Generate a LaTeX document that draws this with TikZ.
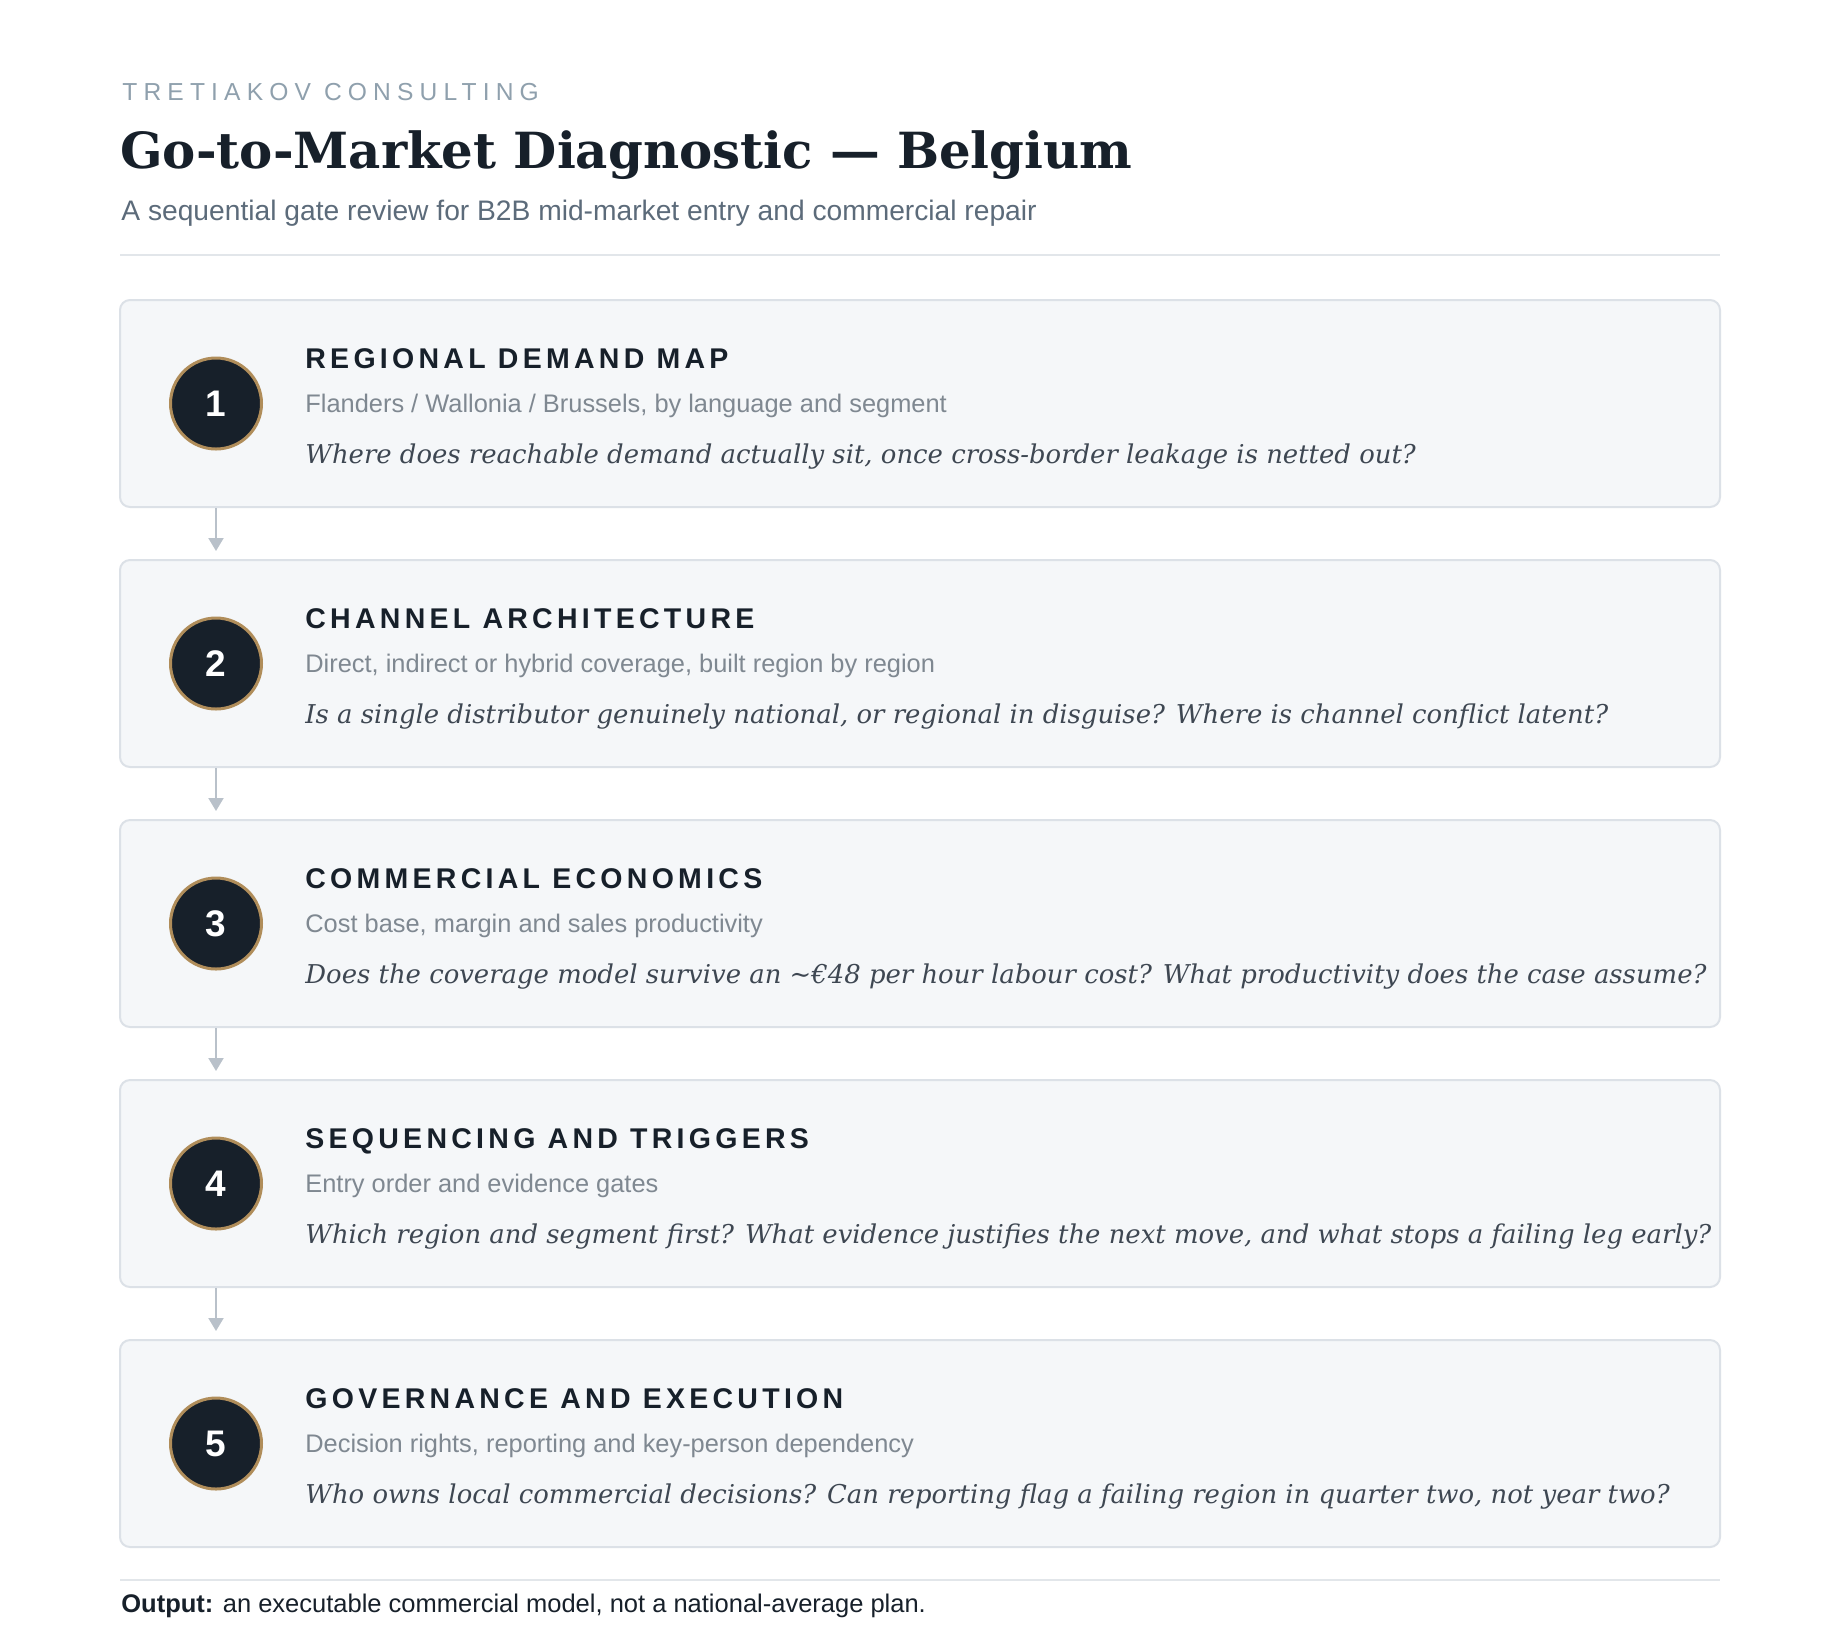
\documentclass[tikz,border=0pt]{standalone}
\usepackage{fontspec}
\setmainfont{Liberation Sans}
\newfontfamily\titlefont{DejaVu Serif}
\newfontfamily\askfont{DejaVu Serif}
\usetikzlibrary{arrows.meta,positioning}

\definecolor{ink}{HTML}{17202A}
\definecolor{brand}{HTML}{8FA0AD}
\definecolor{subtle}{HTML}{5C6B7A}
\definecolor{rulegray}{HTML}{E2E6EA}
\definecolor{panel}{HTML}{F5F7F9}
\definecolor{panelline}{HTML}{DCE1E7}
\definecolor{gold}{HTML}{B08D5A}
\definecolor{note}{HTML}{7F8891}
\definecolor{askgray}{HTML}{3E4752}
\definecolor{flowgray}{HTML}{B9C1CA}

\begin{document}
\begin{tikzpicture}[x=0.5pt,y=-0.5pt,
    stagebox/.style={draw=panelline, line width=1pt, fill=panel, rounded corners=5pt,
      minimum width=800pt, minimum height=103.5pt, inner sep=0pt},
    badge/.style={circle, draw=gold, line width=1.5pt, fill=ink, minimum size=45.5pt,
      inner sep=0pt, text=white, font=\fontsize{18.5}{18.5}\selectfont\bfseries},
    stagetitle/.style={anchor=base west, inner sep=0pt, text=ink,
      font=\fontsize{14.25}{16}\selectfont\bfseries\addfontfeatures{LetterSpace=15}},
    stagenote/.style={anchor=base west, inner sep=0pt, text=note,
      font=\fontsize{12.7}{15}\selectfont},
    stageask/.style={anchor=base west, inner sep=0pt, text=askgray,
      font=\fontsize{12.95}{15}\askfont\itshape},
    flow/.style={draw=flowgray, line width=1pt, -{Triangle[width=7.5pt,length=6.5pt]},
      shorten >=4pt}]
\useasboundingbox[fill=white] (0,0) rectangle (1840,1624);

% Header
\node[anchor=base west, inner sep=0pt, text=brand,
  font=\fontsize{12.3}{14}\selectfont\addfontfeatures{LetterSpace=25}] (brand) at (122,100) {TRETIAKOV CONSULTING};
\node[anchor=base west, inner sep=0pt, text=ink,
  font=\fontsize{24.9}{30}\titlefont\bfseries] (title) at (120,168) {Go-to-Market Diagnostic — Belgium};
\node[anchor=base west, inner sep=0pt, text=subtle,
  font=\fontsize{14.1}{16}\selectfont] (subtitle) at (121,220) {A sequential gate review for B2B mid-market entry and commercial repair};
\draw[rulegray, line width=1pt] (120,255) coordinate (hl) -- (1720,255) coordinate (hr);

% Stage 1
\node[stagebox] (s1) at (920,403.5) {};
\node[badge] (c1) at (216,403.5) {1};
\node[stagetitle] (t1) at (305,368) {REGIONAL DEMAND MAP};
\node[stagenote] (n1) at (305,412) {Flanders / Wallonia / Brussels, by language and segment};
\node[stageask] (q1) at (305,463) {Where does reachable demand actually sit, once cross-border leakage is netted out?};

% Stage 2
\node[stagebox] (s2) at (920,663.5) {};
\node[badge] (c2) at (216,663.5) {2};
\node[stagetitle] (t2) at (305,628) {CHANNEL ARCHITECTURE};
\node[stagenote] (n2) at (305,672) {Direct, indirect or hybrid coverage, built region by region};
\node[stageask] (q2) at (305,723) {Is a single distributor genuinely national, or regional in disguise? Where is channel conflict latent?};

% Stage 3
\node[stagebox] (s3) at (920,923.5) {};
\node[badge] (c3) at (216,923.5) {3};
\node[stagetitle] (t3) at (305,888) {COMMERCIAL ECONOMICS};
\node[stagenote] (n3) at (305,932) {Cost base, margin and sales productivity};
\node[stageask] (q3) at (305,983) {Does the coverage model survive an \textasciitilde€48 per hour labour cost? What productivity does the case assume?};

% Stage 4
\node[stagebox] (s4) at (920,1183.5) {};
\node[badge] (c4) at (216,1183.5) {4};
\node[stagetitle] (t4) at (305,1148) {SEQUENCING AND TRIGGERS};
\node[stagenote] (n4) at (305,1192) {Entry order and evidence gates};
\node[stageask] (q4) at (305,1243) {Which region and segment first? What evidence justifies the next move, and what stops a failing leg early?};

% Stage 5
\node[stagebox] (s5) at (920,1443.5) {};
\node[badge] (c5) at (216,1443.5) {5};
\node[stagetitle] (t5) at (305,1408) {GOVERNANCE AND EXECUTION};
\node[stagenote] (n5) at (305,1452) {Decision rights, reporting and key-person dependency};
\node[stageask] (q5) at (305,1503) {Who owns local commercial decisions? Can reporting flag a failing region in quarter two, not year two?};

% Draw the flow arrows
\draw[flow] (s1.south -| c1) -- (s2.north -| c1);
\draw[flow] (s2.south -| c2) -- (s3.north -| c2);
\draw[flow] (s3.south -| c3) -- (s4.north -| c3);
\draw[flow] (s4.south -| c4) -- (s5.north -| c4);

% Footer
\draw[rulegray, line width=1pt] (120,1580) coordinate (fl) -- (1720,1580) coordinate (fr);
\node[anchor=base west, inner sep=0pt, text=ink,
  font=\fontsize{12.75}{15}\selectfont] (output) at (121,1612) {\textbf{Output:} an executable commercial model, not a national-average plan.};
\end{tikzpicture}
\end{document}
